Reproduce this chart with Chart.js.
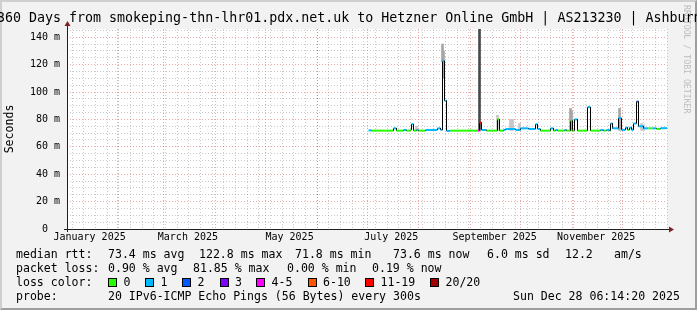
<!DOCTYPE html>
<html>
<head>
<meta charset="utf-8">
<script src="https://cdn.jsdelivr.net/npm/chart.js@4.4.0/dist/chart.umd.min.js"></script>
<style>
	body { margin: 0; background: #fff; }
	#wrap { position: relative; width: 697px; height: 310px; background: #f2f2f2; overflow: hidden; font-family: "DejaVu Sans Mono", monospace; color: #000; }
	#wrap canvas { position: absolute; left: 0; top: 0; }
	#frame { position: absolute; left: 0; top: 0; width: 697px; height: 310px; box-sizing: border-box; border-top: 2px solid #cfcfcf; border-left: 2px solid #cfcfcf; border-bottom: 2px solid #9e9e9e; border-right: 2px solid #9e9e9e; }
	#title { position: absolute; left: -3px; top: 10px; font-size: 13.3px; line-height: 16px; white-space: pre; }
	#brand { position: absolute; left: 682px; top: 5px; font-size: 8.2px; line-height: 10px; writing-mode: vertical-rl; color: #bdbdbd; white-space: pre; }
	.lg { position: absolute; font-size: 11.55px; line-height: 14px; white-space: pre; }
	.box { position: absolute; width: 9px; height: 9px; box-sizing: border-box; border: 1px solid #000; }
</style>
</head>
<body>
<div id="wrap">
	<canvas id="chart" width="697" height="310"></canvas>
	<div id="frame"></div>
	<div id="brand">RRDTOOL / TOBI OETIKER</div>
	<div id="legend"></div>
	<div id="title">360 Days from smokeping-thn-lhr01.pdx.net.uk to Hetzner Online GmbH | AS213230 | Ashburn</div>
</div>
<script>
// graph ends Sun Dec 28 06:14:20 2025, covers 360 days
const endMs = Date.UTC(2025, 11, 28, 6, 14, 20);
const startMs = endMs - 360 * 864e5;
const dayOf = (ms) => (ms - startMs) / 864e5;

// x axis month labels
const monthLabels = ["January 2025", "March 2025", "May 2025", "July 2025", "September 2025", "November 2025"];
const labelMonths = [0, 2, 4, 6, 8, 10];

// y axis ticks (ms)
const yTicks = [0, 5, 10, 15, 20, 25, 30, 35, 40, 45, 50, 55, 60, 65, 70, 75, 80, 85, 90, 95, 100, 105, 110, 115, 120, 125, 130, 135, 140, 145];

// median rtt steps: day since start, value in ms, loss bucket (0..7)
const medDay = [180.6, 182.4, 195.6, 197.4, 201.6, 203.4, 205.8, 206.4, 207.6, 209.4, 210.6, 214.8, 222.0, 223.8, 225.0, 226.2, 227.4, 229.8, 246.0, 247.2, 248.4, 251.4, 258.0, 259.2, 261.6, 262.8, 268.8, 271.8, 276.6, 280.8, 282.0, 283.8, 289.8, 291.6, 292.8, 294.0, 298.2, 299.4, 301.8, 303.0, 304.2, 306.0, 312.0, 313.8, 319.8, 321.6, 323.4, 325.2, 325.8, 327.0, 330.6, 332.4, 334.8, 336.0, 337.2, 338.4, 339.6, 341.4, 342.6, 345.6, 348.6, 351.0, 353.4, 355.8, 360.0];
const medRtt = [72.0, 71.8, 73.5, 71.8, 72.3, 71.8, 72.3, 76.6, 71.8, 72.3, 71.8, 72.3, 73.5, 72.3, 122.7, 93.6, 71.6, 71.8, 71.8, 77.6, 72.3, 71.8, 80.0, 71.8, 72.3, 73.0, 72.3, 73.5, 73.0, 76.5, 73.0, 71.8, 73.5, 71.8, 72.3, 71.8, 72.3, 71.8, 79.0, 71.8, 80.0, 71.8, 89.0, 71.8, 72.3, 71.8, 72.3, 71.8, 77.0, 73.5, 81.0, 72.3, 74.0, 72.3, 74.0, 72.3, 77.0, 93.0, 75.0, 73.5, 73.5, 73.5, 73.0, 73.6, 73.6];
const medLoss = [1, 0, 1, 0, 1, 0, 0, 1, 0, 1, 0, 1, 1, 1, 1, 1, 1, 0, 4, 6, 1, 0, 0, 0, 1, 1, 1, 1, 1, 1, 1, 0, 1, 0, 1, 0, 1, 0, 0, 0, 1, 0, 1, 0, 1, 0, 1, 0, 1, 1, 1, 1, 1, 0, 1, 1, 1, 2, 1, 1, 0, 1, 0, 1, 1];

// smoke (ping spread) at the spikes
const smokeDay = [209.4, 225.0, 225.6, 247.2, 258.0, 265.8, 267.0, 271.2, 301.8, 302.4, 331.2, 344.4, 345.6];
const smokeLo = [72, 122, 110, 72, 72, 72, 72, 72, 72, 72, 72, 72, 72];
const smokeHi = [75, 135, 130, 150, 83, 80, 80, 77, 88, 86, 88, 77, 76];

const lossLabels = ["0", "1", "2", "3", "4-5", "6-10", "11-19", "20/20"];
const lossColors = ["#26ff00", "#00b8ff", "#0059ff", "#7e00ff", "#ff00ff", "#ff5500", "#ff0000", "#a10000"];

const GRID = "rgba(150,150,150,0.5)";
const MGRID = "rgba(222,80,80,0.5)";
const FONT = "'DejaVu Sans Mono', monospace";

// x ticks: weekly (sunday) minor lines, month starts, mid month labels
const monthStarts = [];
for (let m = 0; m < 12; m++) {
	const d = dayOf(Date.UTC(2025, m, 1));
	if (d > 0 && d < 360) monthStarts.push(d);
}
const weekLines = [];
for (let t = Date.UTC(2025, 0, 5); t < endMs; t += 7 * 864e5) {
	weekLines.push(dayOf(t));
}
const labelPos = labelMonths.map((m) => dayOf(Date.UTC(2025, m, 15, 12)));
const labelAt = new Map(labelPos.map((p, i) => [p, monthLabels[i]]));
const xTicks = [...weekLines, ...monthStarts, ...labelPos].sort((a, b) => a - b);

const xGridColor = (v) => {
	if (labelAt.has(v)) return "rgba(0,0,0,0)";
	if (monthStarts.includes(v)) return MGRID;
	return GRID;
};

// step line: horizontal part coloured by loss, vertical part black
const linePts = [];
for (let i = 0; i < medDay.length - 1; i++) {
	linePts.push({ x: medDay[i], y: medRtt[i] }, { x: medDay[i + 1], y: medRtt[i] });
}

const smokeShade = (i) => {
	const spread = smokeHi[i] - smokeLo[i];
	if (spread > 50) return "#4a4a4a";
	if (spread > 12) return "#a6a6a6";
	return "#c6c6c6";
};

const plotFrame = {
	id: "plotFrame",
	beforeDraw(chart) {
		const { ctx, chartArea: a } = chart;
		ctx.save();
		ctx.fillStyle = "#fff";
		ctx.fillRect(a.left, a.top, a.right - a.left, a.bottom - a.top);
		ctx.restore();
	},
	afterDatasetsDraw(chart) {
		const { ctx, chartArea: a } = chart;
		ctx.save();
		ctx.strokeStyle = "#1f1f1f";
		ctx.lineWidth = 1;
		ctx.beginPath();
		ctx.moveTo(a.left - 3, a.bottom + 0.5);
		ctx.lineTo(a.right + 4, a.bottom + 0.5);
		ctx.moveTo(a.left + 0.5, a.bottom + 3);
		ctx.lineTo(a.left + 0.5, a.top - 4);
		ctx.stroke();
		ctx.fillStyle = "#801f1f";
		ctx.beginPath();
		ctx.moveTo(a.left + 0.5, a.top - 8);
		ctx.lineTo(a.left - 2.5, a.top - 3);
		ctx.lineTo(a.left + 3.5, a.top - 3);
		ctx.fill();
		ctx.beginPath();
		ctx.moveTo(a.right + 7, a.bottom + 0.5);
		ctx.lineTo(a.right + 2, a.bottom - 2.5);
		ctx.lineTo(a.right + 2, a.bottom + 3.5);
		ctx.fill();
		ctx.restore();
	},
};

new Chart(document.getElementById("chart"), {
	type: "line",
	data: {
		datasets: [
			{
				type: "bar",
				data: smokeDay.map((d, i) => ({ x: d, y: [smokeLo[i], smokeHi[i]] })),
				backgroundColor: (c) => smokeShade(c.dataIndex),
				borderWidth: 0,
				barThickness: 2,
				grouped: false,
				order: 2,
			},
			{
				type: "line",
				data: linePts,
				borderWidth: 1,
				borderColor: "#000",
				pointRadius: 0,
				tension: 0,
				fill: false,
				order: 1,
				segment: {
					borderColor: (c) => (c.p0DataIndex % 2 === 0 ? lossColors[medLoss[c.p0DataIndex / 2]] : "#000"),
					borderWidth: (c) => (c.p0DataIndex % 2 === 0 ? 2 : 1),
				},
			},
		],
	},
	options: {
		responsive: false,
		animation: false,
		devicePixelRatio: 1,
		events: [],
		layout: { padding: { top: 29, right: 30, bottom: 61, left: 0 } },
		plugins: { legend: { display: false }, tooltip: { enabled: false } },
		scales: {
			x: {
				type: "linear",
				// half a pixel (0.3 day) shift so 1px verticals land on pixel centres
				min: -0.3,
				max: 359.7,
				offset: false,
				afterBuildTicks: (s) => {
					s.ticks = xTicks.map((v) => ({ value: v }));
				},
				afterFit: (s) => {
					s.height = 20;
				},
				grid: { color: (c) => xGridColor(c.tick && c.tick.value), drawTicks: false, offset: false },
				border: { display: false, dash: [1, 2] },
				ticks: {
					autoSkip: false,
					maxRotation: 0,
					minRotation: 0,
					padding: 2,
					color: "#000",
					font: { family: FONT, size: 10 },
					callback: (v) => labelAt.get(v) || "",
				},
			},
			y: {
				min: 0,
				max: 146,
				afterBuildTicks: (s) => {
					s.ticks = yTicks.map((v) => ({ value: v }));
				},
				afterFit: (s) => {
					s.width = 67;
				},
				grid: { color: (c) => (c.tick && c.tick.value % 20 === 0 ? MGRID : GRID), drawTicks: false },
				border: { display: false, dash: [1, 2] },
				ticks: {
					autoSkip: false,
					padding: 7,
					color: "#000",
					font: { family: FONT, size: 10 },
					callback: (v) => (v % 20 ? "" : v ? v + " m" : "0  "),
				},
				title: {
					display: true,
					text: "Seconds",
					color: "#000",
					font: { family: FONT, size: 11.55 },
					padding: { top: 3, bottom: 0 },
				},
			},
		},
	},
	plugins: [plotFrame],
});

// legend block under the plot
const legendRows = [
	{ y: 254, items: [[16, "median rtt:"], [108, "73.4 ms avg"], [199, "122.8 ms max"], [295, "71.8 ms min"], [393, "73.6 ms now"], [487, "6.0 ms sd"], [565, "12.2"], [614, "am/s"]] },
	{ y: 268, items: [[16, "packet loss:"], [108, "0.90 % avg"], [193, "81.85 % max"], [287, "0.00 % min"], [372, "0.19 % now"]] },
	{ y: 282, items: [[16, "loss color:"]] },
	{ y: 296, items: [[16, "probe:"], [108, "20 IPv6-ICMP Echo Pings (56 Bytes) every 300s"], [513, "Sun Dec 28 06:14:20 2025"]] },
];
const boxX = [108, 145, 182, 219.5, 256, 307.5, 365, 430];
const legend = document.getElementById("legend");
const addText = (x, y, text) => {
	const s = document.createElement("span");
	s.className = "lg";
	s.style.left = x + "px";
	s.style.top = y - 7 + "px";
	s.textContent = text;
	legend.appendChild(s);
};
legendRows.forEach((row) => row.items.forEach(([x, t]) => addText(x, row.y, t)));
lossLabels.forEach((lab, i) => {
	const b = document.createElement("div");
	b.className = "box";
	b.style.left = boxX[i] + "px";
	b.style.top = 282 - 4.5 + "px";
	b.style.background = lossColors[i];
	legend.appendChild(b);
	addText(boxX[i] + 15.5, 282, lab);
});
</script>
</body>
</html>
